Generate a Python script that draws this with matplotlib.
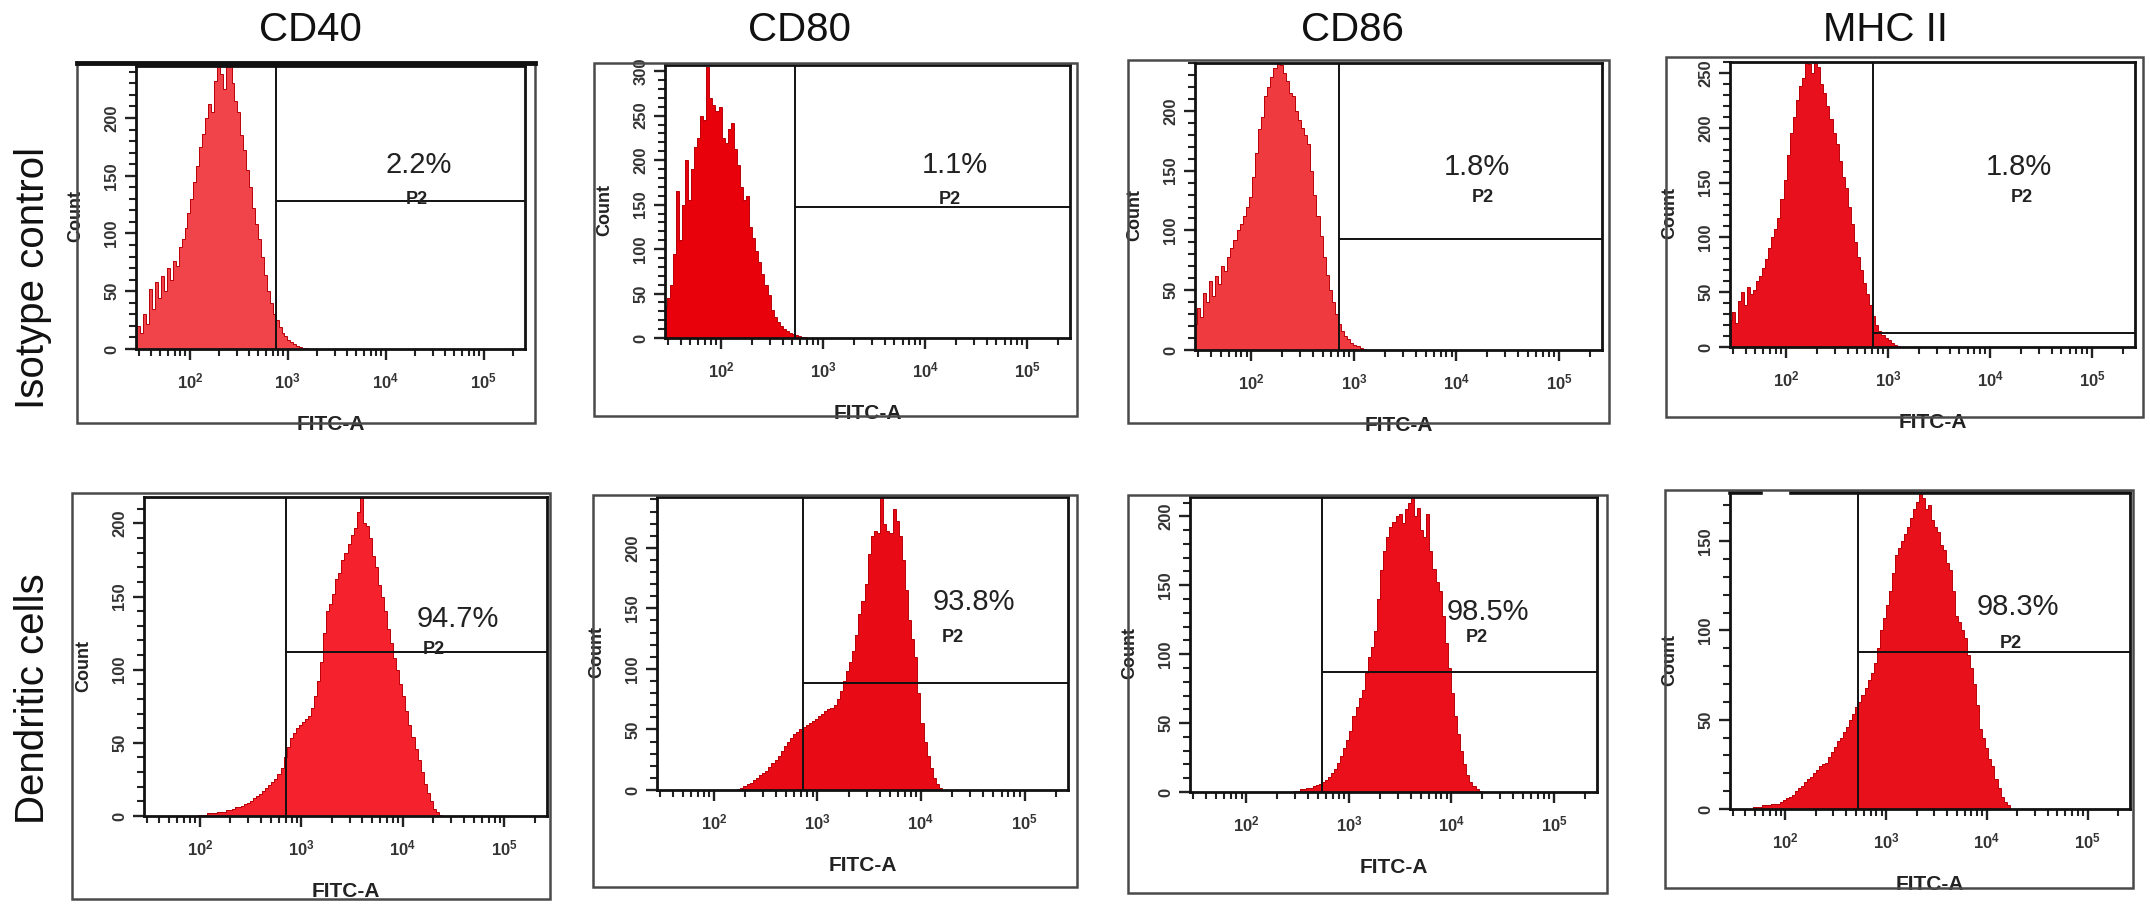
import numpy as np
import matplotlib
matplotlib.use("Agg")
import matplotlib.pyplot as plt
from matplotlib.patches import Rectangle
from matplotlib.lines import Line2D
from matplotlib.ticker import FixedLocator, MultipleLocator, FuncFormatter

plt.rcParams["font.family"] = ["Liberation Sans", "DejaVu Sans"]
plt.rcParams["mathtext.default"] = "regular"

W, H = 2150, 914
BIN_STEP = 0.03  # decades per histogram bin
X_LO, X_HI = 1.45, 5.42  # log10 limits of the FITC-A axis

markers = ["CD40", "CD80", "CD86", "MHC II"]
row_names = ["Isotype control", "Dendritic cells"]

iso_pct = ["2.2%", "1.1%", "1.8%", "1.8%"]
dc_pct = ["94.7%", "93.8%", "98.5%", "98.3%"]

# P2 gate: log10 position of the vertical marker, count of the horizontal one
iso_gate_x = [2.88, 2.72, 2.855, 2.85]
iso_gate_y = [128, 147, 93, 13]
dc_gate_x = [2.85, 2.86, 2.74, 2.72]
dc_gate_y = [112, 88, 87, 88]

iso_ymax = [245, 307, 240, 260]
dc_ymax = [218, 242, 214, 177]

# histogram counts, first bin centre given as log10 value
cd40_iso_start = 1.45
cd40_iso = [17, 20, 14, 30, 22, 52, 35, 58, 44, 63, 50, 70, 60, 76, 72, 88, 95, 105,
            118, 130, 145, 158, 175, 186, 200, 212, 205, 232, 250, 238, 225, 250, 248,
            230, 215, 205, 185, 172, 155, 140, 122, 108, 95, 80, 64, 50, 40, 30, 25,
            19, 14, 11, 8, 6, 4, 3, 2, 1, 1, 0]

cd80_iso_start = 1.45
cd80_iso = [35, 45, 60, 95, 165, 110, 150, 200, 155, 190, 215, 225, 250, 245, 305,
            270, 262, 255, 260, 225, 219, 235, 242, 212, 195, 170, 155, 160, 125, 112,
            98, 85, 72, 60, 48, 32, 24, 18, 13, 10, 8, 6, 4, 3, 2, 1, 1, 0]

cd86_iso_start = 1.45
cd86_iso = [22, 35, 28, 48, 40, 58, 45, 62, 55, 70, 66, 78, 85, 92, 100, 105, 112, 120,
            128, 145, 165, 185, 195, 212, 220, 228, 236, 245, 238, 232, 225, 215, 212,
            200, 192, 186, 180, 172, 150, 130, 112, 95, 78, 63, 50, 40, 30, 22, 16, 12,
            9, 6, 4, 3, 2, 1, 0]

mhc_iso_start = 1.45
mhc_iso = [25, 32, 22, 42, 50, 38, 55, 48, 52, 60, 65, 72, 80, 90, 100, 108, 118, 135,
           152, 175, 195, 210, 225, 238, 245, 262, 258, 250, 262, 255, 240, 232, 220,
           208, 195, 185, 170, 155, 145, 128, 112, 96, 82, 70, 58, 48, 38, 28, 20, 15,
           11, 8, 6, 4, 2, 1, 0]

cd40_dc_start = 1.97
cd40_dc = [0, 1, 1, 1, 2, 2, 2, 3, 3, 3, 4, 4, 5, 6, 6, 7, 8, 9, 10, 12, 14, 15, 17, 19,
           21, 23, 25, 29, 33, 40, 47, 53, 57, 60, 62, 64, 66, 68, 74, 82, 92, 105, 125,
           140, 145, 152, 162, 166, 175, 180, 186, 192, 197, 208, 218, 200, 198, 190,
           178, 170, 158, 150, 140, 128, 118, 108, 100, 90, 82, 72, 62, 54, 46, 38, 30,
           22, 16, 10, 5, 3, 1, 0]

cd80_dc_start = 2.21
cd80_dc = [0, 1, 2, 3, 5, 6, 8, 10, 12, 14, 16, 19, 22, 25, 28, 32, 36, 40, 43, 46, 48,
           50, 52, 54, 55, 57, 59, 61, 63, 65, 67, 68, 70, 75, 82, 90, 98, 106, 115, 128,
           145, 156, 170, 195, 210, 214, 212, 250, 220, 214, 212, 232, 222, 210, 190,
           165, 140, 125, 110, 80, 55, 40, 28, 18, 10, 5, 2, 0]

cd86_dc_start = 2.45
cd86_dc = [0, 1, 1, 2, 2, 3, 3, 4, 5, 6, 7, 9, 11, 14, 17, 21, 26, 32, 38, 44, 55, 62,
           68, 74, 86, 98, 105, 117, 140, 161, 175, 185, 192, 196, 200, 202, 195, 205,
           210, 218, 200, 206, 190, 185, 202, 175, 162, 152, 146, 128, 108, 90, 72, 55,
           42, 30, 20, 12, 7, 4, 2, 1, 0]

mhc_dc_start = 1.66
mhc_dc = [0, 1, 1, 1, 2, 2, 2, 3, 3, 3, 4, 5, 6, 7, 8, 10, 12, 13, 15, 17, 18, 20, 22,
          24, 25, 26, 29, 32, 35, 38, 40, 43, 46, 50, 53, 57, 60, 64, 68, 72, 76, 82, 90,
          100, 107, 114, 122, 132, 142, 146, 150, 154, 158, 163, 168, 172, 177, 174, 168,
          170, 162, 158, 155, 148, 145, 138, 134, 122, 108, 105, 100, 96, 86, 79, 70, 58,
          45, 40, 34, 28, 24, 17, 12, 7, 4, 2, 0]

iso_hist = [(cd40_iso_start, cd40_iso), (cd80_iso_start, cd80_iso),
            (cd86_iso_start, cd86_iso), (mhc_iso_start, mhc_iso)]
dc_hist = [(cd40_dc_start, cd40_dc), (cd80_dc_start, cd80_dc),
           (cd86_dc_start, cd86_dc), (mhc_dc_start, mhc_dc)]

# layout in pixels: (left, right, top, bottom)
inner_boxes = [
    [(136, 525, 66, 349), (665, 1070, 65, 338), (1195, 1602, 63, 350), (1730, 2135, 62, 347)],
    [(144, 547, 497, 816), (657, 1068, 497, 790), (1190, 1597, 497, 792), (1730, 2130, 493, 809)],
]
outer_boxes = [
    [(77, 535, 63, 423), (594, 1077, 63, 416), (1128, 1609, 60, 423), (1666, 2143, 57, 417)],
    [(72, 550, 493, 899), (593, 1077, 495, 887), (1128, 1607, 495, 893), (1665, 2133, 490, 888)],
]
pct_pos = [
    [(419, 165), (955, 165), (1477, 167), (2019, 167)],
    [(458, 619), (974, 602), (1488, 612), (2018, 607)],
]
p2_pos = [
    [(417, 200), (950, 199), (1483, 197), (2022, 197)],
    [(434, 650), (953, 637), (1477, 638), (2011, 644)],
]
title_x = [310, 800, 1352, 1885]
row_label_y = [278, 699]

fills = [["#f0434a", "#e8000b", "#ef3a40", "#e8101c"],
         ["#f5222d", "#e80a14", "#ea0f1a", "#e8101a"]]
edge_color = "#b80008"


def fig_rect(l, r, t, b):
    return [l / W, 1 - b / H, (r - l) / W, (b - t) / H]


def decade_label(v, pos):
    return "$10^{%d}$" % round(np.log10(v))


fig = plt.figure(figsize=(W / 100, H / 100), dpi=100)

for col, name in enumerate(markers):
    fig.text(title_x[col] / W, 1 - 30 / H, name, fontsize=29, ha="center", va="center",
             color="#111")
for row, name in enumerate(row_names):
    fig.text(33 / W, 1 - row_label_y[row] / H, name, fontsize=29, rotation=90,
             ha="center", va="center", color="#111")

minor_x = [k * 10 ** d for d in range(1, 6) for k in range(2, 10)
           if X_LO <= np.log10(k * 10 ** d) <= X_HI]

for row in range(2):
    hists = iso_hist if row == 0 else dc_hist
    gx_list = iso_gate_x if row == 0 else dc_gate_x
    gy_list = iso_gate_y if row == 0 else dc_gate_y
    ymax_list = iso_ymax if row == 0 else dc_ymax
    pct_list = iso_pct if row == 0 else dc_pct
    for col in range(4):
        ol, orr, ot, ob = outer_boxes[row][col]
        fig.patches.append(Rectangle((ol / W, 1 - ob / H), (orr - ol) / W, (ob - ot) / H,
                                     transform=fig.transFigure, fill=False,
                                     edgecolor="#4a4a4a", linewidth=1.8))
        if row == 0 and col == 0:
            fig.add_artist(Line2D([ol / W, orr / W], [1 - ot / H, 1 - ot / H],
                                  color="#111", linewidth=3.5))
        l, r, t, b = inner_boxes[row][col]
        ax = fig.add_axes(fig_rect(l, r, t, b))

        start, counts = hists[col]
        edges = 10 ** (start - BIN_STEP / 2 + BIN_STEP * np.arange(len(counts) + 1))
        ax.stairs(counts, edges, fill=True, color=fills[row][col])
        ax.stairs(counts, edges, color=edge_color, linewidth=0.7)

        ax.set_xscale("log")
        ax.set_xlim(10 ** X_LO, 10 ** X_HI)
        ax.set_ylim(0, ymax_list[col])

        gx = 10 ** gx_list[col]
        ax.axvline(gx, color="#111", linewidth=1.4)
        ax.hlines(gy_list[col], gx, 10 ** X_HI, color="#111", linewidth=1.4)

        ax.xaxis.set_major_locator(FixedLocator([1e2, 1e3, 1e4, 1e5]))
        ax.xaxis.set_minor_locator(FixedLocator(minor_x))
        ax.xaxis.set_major_formatter(FuncFormatter(decade_label))
        ax.xaxis.set_minor_formatter(FuncFormatter(lambda v, p: ""))
        ax.yaxis.set_major_locator(MultipleLocator(50))
        ax.yaxis.set_minor_locator(MultipleLocator(10))
        ax.tick_params(which="major", direction="out", length=8, width=1.7,
                       labelsize=12, color="#222", labelcolor="#333", pad=4)
        ax.tick_params(which="minor", direction="out", length=5, width=1.5, color="#222")
        ax.tick_params(axis="x", which="major", pad=8)
        for lab in ax.get_yticklabels():
            lab.set_rotation(90)
            lab.set_va("center")
            lab.set_fontweight("bold")
        for lab in ax.get_xticklabels():
            lab.set_fontweight("bold")

        for sp in ax.spines.values():
            sp.set_linewidth(2.0)
            sp.set_color("#111")
        if row == 1 and col == 3:
            ax.spines["top"].set_visible(False)
            ax.add_line(Line2D([0, 0.078], [1, 1], transform=ax.transAxes, color="#111",
                               linewidth=2.6, clip_on=False))
            ax.add_line(Line2D([0.153, 1], [1, 1], transform=ax.transAxes, color="#111",
                               linewidth=2.6, clip_on=False))

        ax.set_xlabel("FITC-A", fontsize=15, fontweight="bold", color="#222")
        ax.xaxis.set_label_coords(0.5, -66 / (b - t))
        ax.set_ylabel("Count", fontsize=13, fontweight="bold", color="#222")
        ax.yaxis.set_label_coords(-52 / (r - l), 0.47)

        px, py = pct_pos[row][col]
        fig.text(px / W, 1 - py / H, pct_list[col], fontsize=21, ha="center",
                 va="center", color="#222")
        qx, qy = p2_pos[row][col]
        fig.text(qx / W, 1 - qy / H, "P2", fontsize=13, fontweight="bold", ha="center",
                 va="center", color="#222")

fig.savefig("out.png", dpi=100, facecolor="white")
